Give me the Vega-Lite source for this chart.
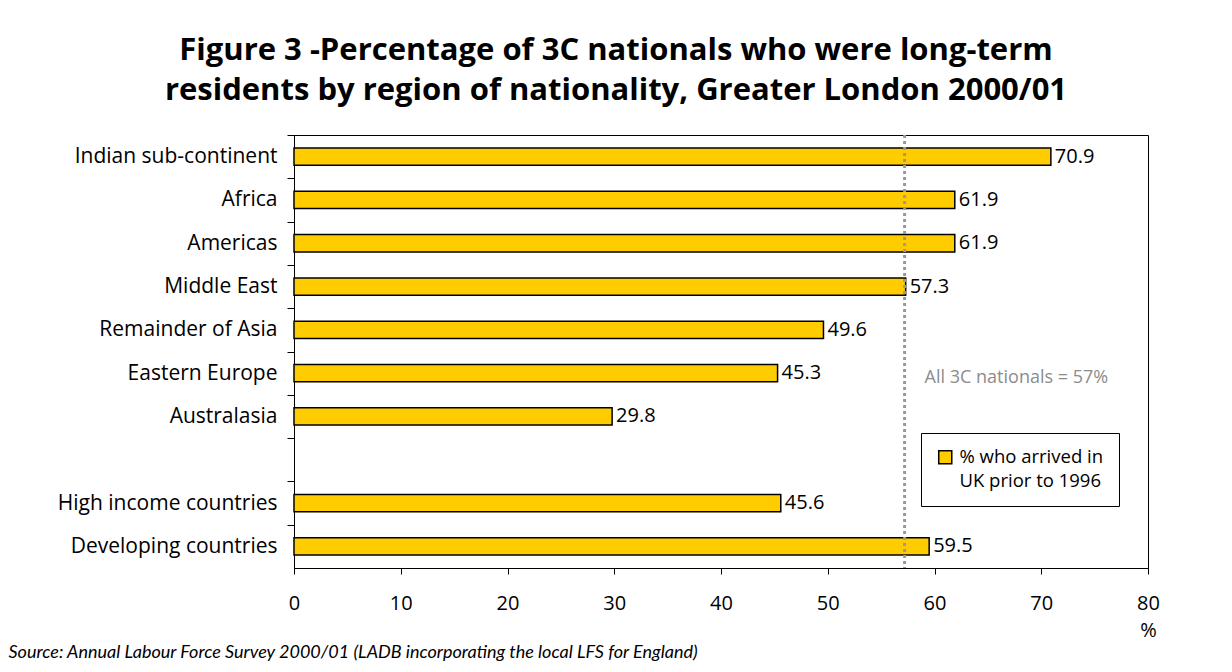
{
  "$schema": "https://vega.github.io/schema/vega-lite/v6.json",
  "width": 854,
  "height": 433,
  "autosize": {"type": "none"},
  "padding": {"left": 294, "top": 135, "right": 84, "bottom": 104},
  "background": "white",
  "config": {
    "font": "Open Sans",
    "view": {"stroke": "#000", "strokeWidth": 1},
    "style": {"guide-label": {"lineHeight": 24}}
  },
  "title": {
    "text": ["Figure 3 -Percentage of 3C nationals who were long-term", "residents by region of nationality, Greater London 2000/01"],
    "fontSize": 31,
    "fontWeight": "bold",
    "font": "Open Sans",
    "color": "#000",
    "lineHeight": 40,
    "anchor": "middle",
    "frame": "group",
    "dx": -105,
    "offset": 27
  },
  "datasets": {
    "bars": [
      {"region": "Indian sub-continent", "pct": 70.9, "series": "% who arrived in UK prior to 1996"},
      {"region": "Africa", "pct": 61.9, "series": "% who arrived in UK prior to 1996"},
      {"region": "Americas", "pct": 61.9, "series": "% who arrived in UK prior to 1996"},
      {"region": "Middle East", "pct": 57.3, "series": "% who arrived in UK prior to 1996"},
      {"region": "Remainder of Asia", "pct": 49.6, "series": "% who arrived in UK prior to 1996"},
      {"region": "Eastern Europe", "pct": 45.3, "series": "% who arrived in UK prior to 1996"},
      {"region": "Australasia", "pct": 29.8, "series": "% who arrived in UK prior to 1996"},
      {"region": "High income countries", "pct": 45.6, "series": "% who arrived in UK prior to 1996"},
      {"region": "Developing countries", "pct": 59.5, "series": "% who arrived in UK prior to 1996"}
    ],
    "overall": [
      {"avg": 57.2, "label": "All 3C nationals = 57%", "region": "Eastern Europe"}
    ]
  },
  "layer": [
    {
      "data": {"name": "bars"},
      "mark": {"type": "bar", "stroke": "#000", "strokeWidth": 1.5},
      "encoding": {
        "y": {
          "field": "region",
          "type": "nominal",
          "sort": null,
          "scale": {
            "domain": ["Indian sub-continent", "Africa", "Americas", "Middle East", "Remainder of Asia", "Eastern Europe", "Australasia", " ", "High income countries", "Developing countries"],
            "paddingInner": 0.6,
            "paddingOuter": 0.3
          },
          "axis": {
            "title": null,
            "labelFontSize": 21,
            "labelColor": "#000",
            "labelFont": "Open Sans",
            "labelLimit": 300,
            "domainColor": "#000",
            "tickColor": "#000",
            "tickSize": 7,
            "labelPadding": 10,
            "tickOffset": -21.65,
            "labelOffset": 21.65
          }
        },
        "x": {
          "field": "pct",
          "type": "quantitative",
          "scale": {"domain": [0, 80], "nice": false},
          "axis": {
            "values": [0, 10, 20, 30, 40, 50, 60, 70, 80],
            "grid": false,
            "labelFontSize": 20,
            "labelColor": "#000",
            "labelFont": "Open Sans",
            "labelExpr": "datum.value == 80 ? ['80', '%'] : datum.label",
            "labelLineHeight": 27,
            "labelFlush": false,
            "domainColor": "#000",
            "tickColor": "#000",
            "tickSize": 6,
            "labelPadding": 19,
            "title": "Source: Annual Labour Force Survey 2000/01 (LADB incorporating the local LFS for England)",
            "titleFontStyle": "italic",
            "titleFontWeight": "normal",
            "titleFontSize": 18,
            "titleFont": "Lato",
            "titleColor": "#000",
            "titleAnchor": "start",
            "titleAlign": "left",
            "titleBaseline": "middle",
            "titleX": -286,
            "titleY": 84
          }
        },
        "color": {
          "field": "series",
          "type": "nominal",
          "scale": {"range": ["#FFCC00"]},
          "legend": {
            "title": null,
            "orient": "none",
            "legendX": 627,
            "legendY": 298,
            "direction": "vertical",
            "strokeColor": "#000",
            "fillColor": "#fff",
            "padding": 15,
            "symbolType": "square",
            "symbolSize": 170,
            "symbolStrokeColor": "#000",
            "symbolStrokeWidth": 1.5,
            "symbolFillColor": "#FFCC00",
            "labelFontSize": 18.5,
            "labelFont": "Open Sans",
            "labelColor": "#000",
            "labelLimit": 300,
            "labelExpr": "['% who arrived in', 'UK prior to 1996']",
            "labelOffset": 5
          }
        }
      }
    },
    {
      "data": {"name": "bars"},
      "mark": {"type": "text", "align": "left", "baseline": "middle", "dx": 4, "fontSize": 20, "font": "Open Sans", "color": "#000"},
      "encoding": {
        "y": {"field": "region", "type": "nominal", "sort": null},
        "x": {"field": "pct", "type": "quantitative"},
        "text": {"field": "pct", "type": "quantitative", "format": ".1f"}
      }
    },
    {
      "data": {"name": "overall"},
      "mark": {"type": "rule", "color": "#999", "strokeWidth": 3, "strokeDash": [3, 3]},
      "encoding": {
        "x": {"field": "avg", "type": "quantitative"}
      }
    },
    {
      "data": {"name": "overall"},
      "mark": {"type": "text", "align": "left", "baseline": "middle", "dx": 20, "dy": 5, "fontSize": 18, "font": "Open Sans", "fontWeight": "normal", "color": "#8c8c8c"},
      "encoding": {
        "x": {"field": "avg", "type": "quantitative"},
        "y": {"field": "region", "type": "nominal", "sort": null},
        "text": {"field": "label", "type": "nominal"}
      }
    }
  ]
}
